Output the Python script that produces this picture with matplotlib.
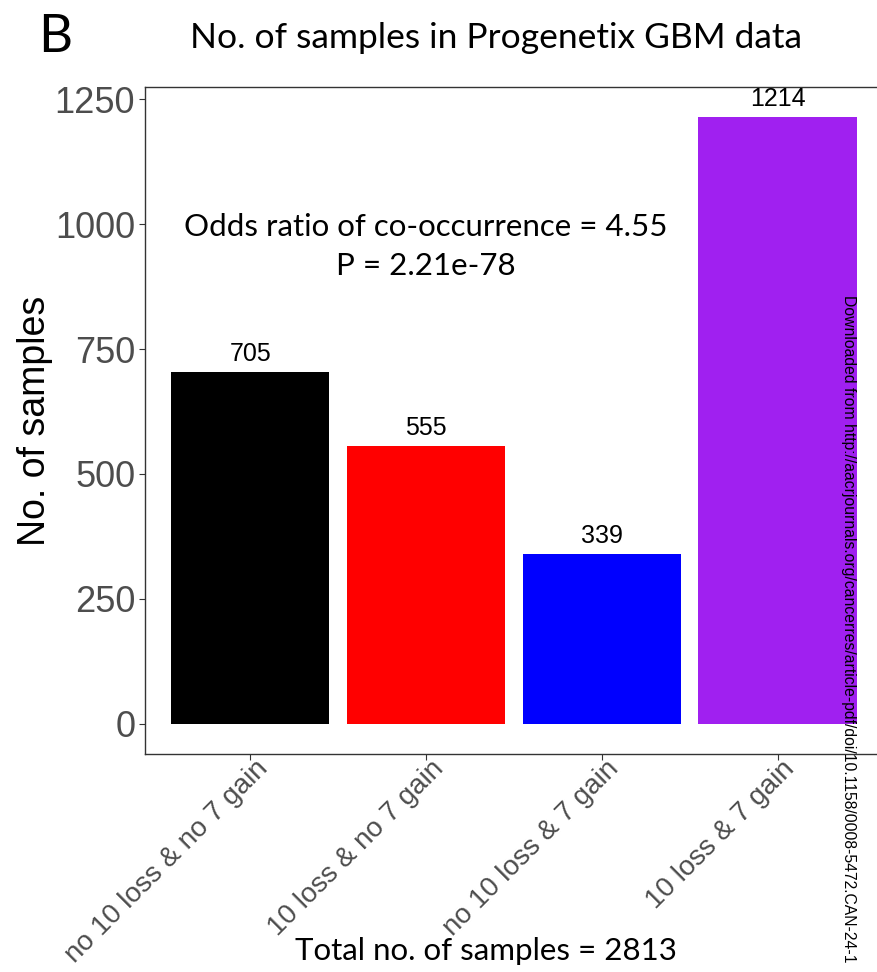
import matplotlib.pyplot as plt
import matplotlib.transforms as mtransforms

# counts per combination of chr10 loss / chr7 gain
groups = ["no 10 loss & no 7 gain", "10 loss & no 7 gain", "no 10 loss & 7 gain", "10 loss & 7 gain"]
counts = [705, 555, 339, 1214]
colors = ["#000000", "#FF0000", "#0000FF", "#A020F0"]
yticks = [0, 250, 500, 750, 1000, 1250]

odds_ratio = 4.55
p_value = "2.21e-78"
total = sum(counts)

plt.rcParams["font.family"] = ["Liberation Sans", "DejaVu Sans"]
title_font = ["Lato", "DejaVu Sans"]

fig = plt.figure(figsize=(8.77, 9.72), dpi=100)
ax = fig.add_axes([0.1653, 0.2243, 0.8415, 0.6862])

x = range(len(groups))
ax.bar(x, counts, width=0.9, color=colors)
for i, c in enumerate(counts):
    ax.text(i, c + 12, str(c), ha="center", va="bottom", fontsize=18, color="black")

ax.text(1, 955, f"Odds ratio of co-occurrence = {odds_ratio}\nP = {p_value}",
        ha="center", va="center", fontsize=22.5, fontfamily=title_font,
        linespacing=1.45)

ax.tick_params(axis="both", direction="out", length=4, width=0.8, color="#333333", pad=3)
for s in ax.spines.values():
    s.set_color("#333333")
    s.set_linewidth(1.0)

ax.set_xlim(-0.6, 3.6)
ax.set_ylim(-60.7, 1274.7)
ax.set_yticks(yticks)
ax.set_yticklabels([str(v) for v in yticks], fontsize=26, color="#4d4d4d")
ax.set_xticks(list(x))
ax.set_xticklabels(groups, rotation=45, ha="right", va="top", rotation_mode="anchor",
                   fontsize=20, color="#4d4d4d")
# nudge the slanted labels so their upper end sits just right of the tick
offset = mtransforms.ScaledTranslation(0.04, 0.08, fig.dpi_scale_trans)
for lbl in ax.get_xticklabels():
    lbl.set_transform(lbl.get_transform() + offset)

ax.set_ylabel("No. of samples", fontsize=27, labelpad=1)

fig.text(0.566, 0.961, "No. of samples in Progenetix GBM data", ha="center", va="center",
         fontsize=25.5, fontfamily=title_font)
fig.text(0.063, 0.961, "B", ha="center", va="center", fontsize=38, fontfamily=title_font)
fig.text(0.554, 0.022, f"Total no. of samples = {total}", ha="center", va="center",
         fontsize=22.5, fontfamily=title_font)

fig.text(0.967, 0.697, "Downloaded from http://aacrjournals.org/cancerres/article-pdf/doi/10.1158/0008-5472.CAN-24-1",
         rotation=-90, ha="center", va="top", fontsize=11.3)

fig.savefig("out.png", dpi=100)
